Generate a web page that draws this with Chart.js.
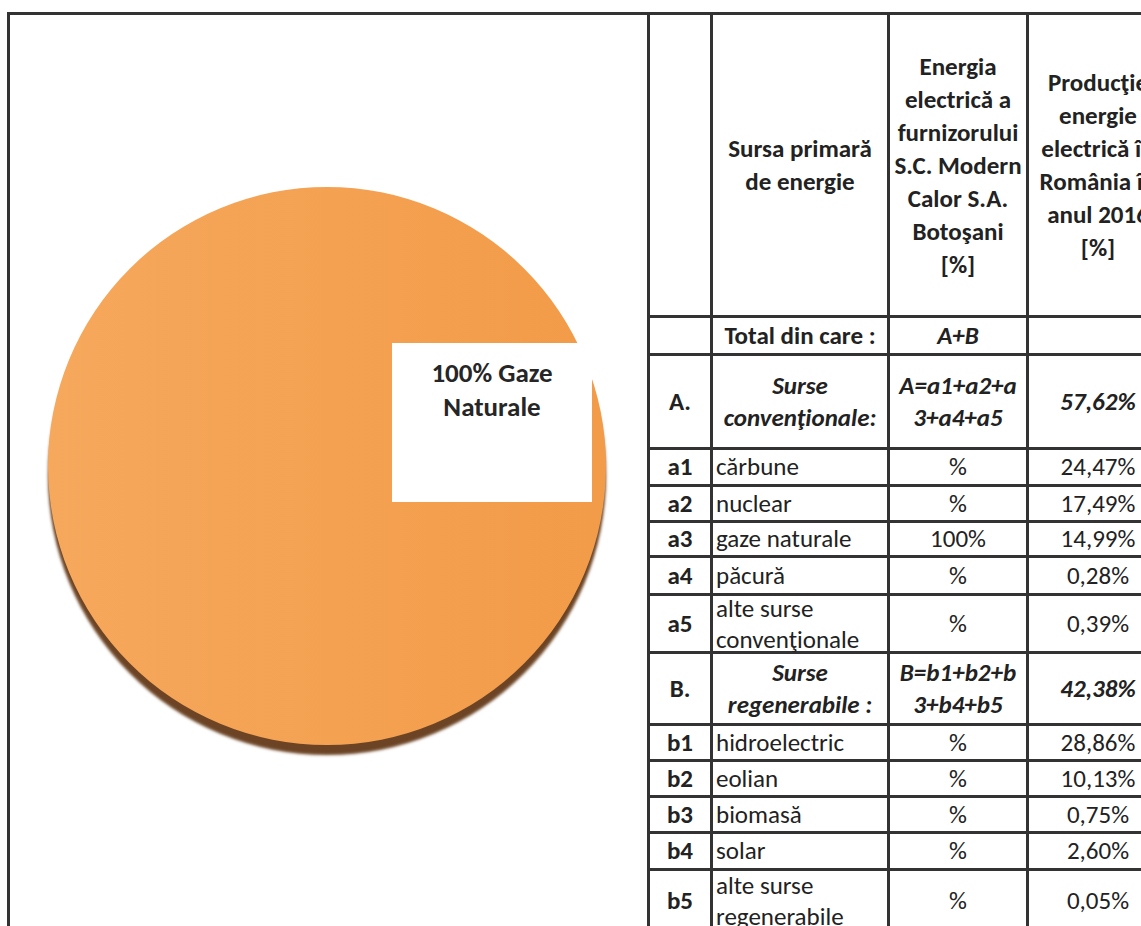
<!DOCTYPE html>
<html>
<head>
   <meta charset="utf-8">
   <script src="https://cdn.jsdelivr.net/npm/chart.js"></script>
   <title>Sursa primara de energie</title>
   <style>
      html, body { margin: 0; padding: 0; background: #fff; overflow: hidden; width: 1141px; height: 926px; }
      body { position: relative; font-family: Carlito, Lato, sans-serif; color: #222; }
      #frame { position: absolute; left: 7px; top: 12px; width: 1200px; height: 1000px;
               border-left: 3px solid #333; border-top: 3px solid #333; }
      #pieBox { position: absolute; left: 25px; top: 165px; width: 604px; height: 600px; }
      #label { position: absolute; left: 392px; top: 343px; width: 200px; height: 159px; background: #fff;
               font-weight: bold; font-size: 27px; line-height: 34px; text-align: center; padding-top: 13px;
               box-sizing: border-box; color: #262626; }
      #tbl { position: absolute; left: 647px; top: 12px; width: 520px; border-collapse: collapse; table-layout: fixed;
             font-size: 25px; }
      #tbl td { border: 3px solid #333; padding: 0 3px; text-align: center; vertical-align: middle;
                line-height: 32px; overflow: visible; white-space: nowrap; }
      #tbl td.src { text-align: left; }
      #tbl td.b { font-weight: bold; }
      #tbl td.bi { font-weight: bold; font-style: italic; }
      #tbl tr.head td { font-weight: bold; line-height: 33px; }
      .tight { height: 50px; line-height: 31px; position: relative; top: -6px; }
   </style>
</head>
<body>
<div id="frame"></div>
<div id="pieBox"><canvas id="pie"></canvas></div>
<div id="label">100% Gaze<br>Naturale</div>
<table id="tbl">
   <colgroup><col style="width:63px"><col style="width:177px"><col style="width:139px"><col style="width:141px"></colgroup>
   <tbody id="rows"></tbody>
</table>
<script>
   // pie data (supplier mix)
   const pieLabels = ['Gaze Naturale'];
   const pieValues = [100];

   // table data
   const convCodes = ['a1', 'a2', 'a3', 'a4', 'a5'];
   const convSources = ['cărbune', 'nuclear', 'gaze naturale', 'păcură', 'alte surse<br>convenţionale'];
   const convSupplier = ['%', '%', '100%', '%', '%'];
   const convNational = ['24,47%', '17,49%', '14,99%', '0,28%', '0,39%'];
   const renCodes = ['b1', 'b2', 'b3', 'b4', 'b5'];
   const renSources = ['hidroelectric', 'eolian', 'biomasă', 'solar', 'alte surse<br>regenerabile'];
   const renSupplier = ['%', '%', '%', '%', '%'];
   const renNational = ['28,86%', '10,13%', '0,75%', '2,60%', '0,05%'];
   const groupTotals = ['57,62%', '42,38%'];

   // row heights in px (layout only)
   const convH = [37, 36, 35, 38, 58];
   const renH = [36, 36, 36, 37, 62];

   function srcCell(txt) {
      // two-line names get a squeezed box so the row keeps its height
      if (txt.indexOf('<br>') >= 0) return '<td class="src"><div class="tight">' + txt + '</div></td>';
      return '<td class="src">' + txt + '</td>';
   }

   let html = '';
   html += '<tr class="head" style="height:303px"><td></td><td>Sursa primară<br>de energie</td>' +
      '<td>Energia<br>electrică a<br>furnizorului<br>S.C. Modern<br>Calor S.A.<br>Botoşani<br>[%]</td>' +
      '<td>Producţie<br>energie<br>electrică în<br>România în<br>anul 2016<br>[%]</td></tr>';
   html += '<tr style="height:38px"><td></td><td class="b">Total din care :</td><td class="bi">A+B</td><td></td></tr>';
   html += '<tr style="height:94px"><td class="b">A.</td><td class="bi">Surse<br>convenţionale:</td>' +
      '<td class="bi">A=a1+a2+a<br>3+a4+a5</td><td class="bi">' + groupTotals[0] + '</td></tr>';
   for (let i = 0; i < convCodes.length; i++) {
      html += '<tr style="height:' + convH[i] + 'px"><td class="b">' + convCodes[i] + '</td>' +
         srcCell(convSources[i]) + '<td>' + convSupplier[i] + '</td><td>' + convNational[i] + '</td></tr>';
   }
   html += '<tr style="height:72px"><td class="b">B.</td><td class="bi">Surse<br>regenerabile :</td>' +
      '<td class="bi">B=b1+b2+b<br>3+b4+b5</td><td class="bi">' + groupTotals[1] + '</td></tr>';
   for (let i = 0; i < renCodes.length; i++) {
      html += '<tr style="height:' + renH[i] + 'px"><td class="b">' + renCodes[i] + '</td>' +
         srcCell(renSources[i]) + '<td>' + renSupplier[i] + '</td><td>' + renNational[i] + '</td></tr>';
   }
   document.getElementById('rows').innerHTML = html;

   // dark rim under the pie
   const pieShadow = {
      id: 'pieShadow',
      beforeDatasetsDraw(chart) {
         const ctx = chart.ctx;
         ctx.save();
         ctx.shadowColor = 'rgba(100,58,25,0.95)';
         ctx.shadowOffsetY = 10;
         ctx.shadowBlur = 3;
      },
      afterDatasetsDraw(chart) {
         chart.ctx.restore();
      }
   };

   new Chart(document.getElementById('pie'), {
      type: 'pie',
      data: {
         labels: pieLabels,
         datasets: [{
            data: pieValues,
            borderWidth: 0,
            backgroundColor: function (c) {
               const a = c.chart.chartArea;
               if (!a) return '#f4a150';
               const g = c.chart.ctx.createLinearGradient(a.left, 0, a.right, 0);
               g.addColorStop(0, '#f6a85c');
               g.addColorStop(1, '#f29b48');
               return g;
            }
         }]
      },
      options: {
         responsive: true,
         maintainAspectRatio: false,
         animation: false,
         layout: { padding: { left: 20, right: 20, top: 22, bottom: 20 } },
         plugins: {
            legend: { display: false },
            tooltip: { enabled: false }
         }
      },
      plugins: [pieShadow]
   });
</script>
</body>
</html>
